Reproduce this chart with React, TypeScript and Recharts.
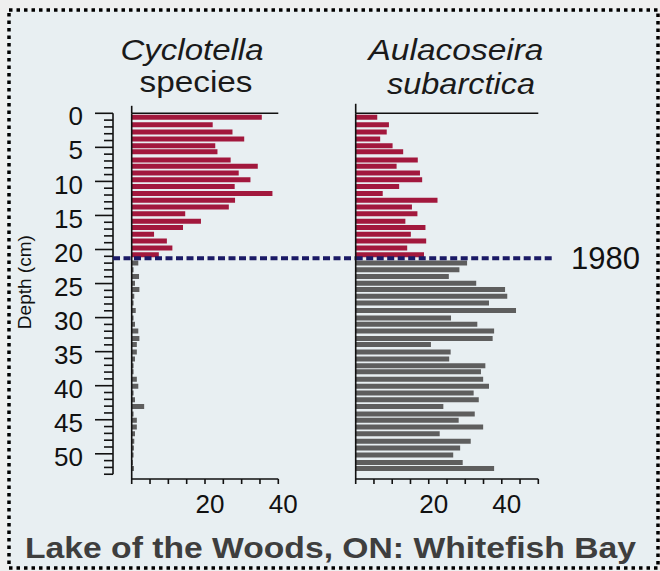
import React from 'react';
import { BarChart, Bar, XAxis, YAxis, Cell, ReferenceLine } from 'recharts';

// Depth (cm) of each sample
const depths = [0.5, 1.6, 2.7, 3.7, 4.7, 5.6, 6.8, 7.7, 8.7, 9.7, 10.7, 11.7, 12.7, 13.7, 14.7, 15.8, 16.7, 17.7, 18.7, 19.7, 20.7,
  21.9, 22.9, 23.9, 24.9, 25.8, 26.8, 27.8, 28.9, 30.0, 30.9, 31.9, 33.0, 33.9, 35.0, 36.0, 37.0, 37.9, 39.0, 40.0, 41.0,
  42.0, 43.0, 44.1, 45.0, 46.0, 47.0, 48.1, 49.1, 50.1, 51.2, 52.1];

// Cyclotella species (% abundance)
const cyclotella = [35.5, 22.1, 27.5, 30.7, 22.8, 23.4, 27.0, 34.4, 29.2, 32.4, 28.1, 38.4, 28.2, 26.5, 14.6, 18.9, 14.0, 6.1, 9.6, 11.1, 7.4,
  1.8, 0.5, 2.0, 0.9, 2.1, 0.7, 0.5, 1.1, 0.5, 0.9, 1.8, 2.1, 1.4, 1.4, 0.9, 0.5, 0.5, 1.4, 1.8, 0.5,
  0.9, 3.4, 0.5, 1.4, 1.4, 0.9, 0.7, 0.6, 0.5, 0.3, 0.6];

// Aulacoseira subarctica (% abundance)
const aulacoseira = [5.9, 9.1, 8.5, 6.7, 10.1, 13.0, 17.0, 11.2, 17.6, 18.2, 11.9, 7.4, 22.4, 15.4, 16.9, 13.6, 19.1, 15.1, 19.3, 14.1, 18.7,
  30.5, 28.4, 25.5, 33.0, 40.9, 41.5, 36.5, 43.9, 26.1, 33.3, 37.9, 37.5, 20.6, 26.0, 25.6, 35.5, 34.3, 34.9, 36.5, 32.3,
  33.7, 24.0, 32.6, 28.2, 34.9, 23.0, 31.5, 28.6, 26.7, 29.3, 37.9];

const depthTicks = [0, 1, 2, 3, 4, 5, 6, 7, 8, 9, 10, 11, 12, 13, 14, 15, 16, 17, 18, 19, 20, 21, 22, 23, 24, 25, 26,
  27, 28, 29, 30, 31, 32, 33, 34, 35, 36, 37, 38, 39, 40, 41, 42, 43, 44, 45, 46, 47, 48, 49, 50, 51, 52, 53];
const depthLabels = [0, 5, 10, 15, 20, 25, 30, 35, 40, 45, 50];
const leftValueTicks = [0, 5, 10, 15, 20, 25, 30, 35, 40];
const rightValueTicks = [0, 5, 10, 15, 20, 25, 30, 35, 40, 45, 50];
const valueLabels = [20, 40];

const year1980Depth = 21.3;
const depthDomain: [number, number] = [0, 53.7];

const data = depths.map((d, i) => ({ depth: d, cyclotella: cyclotella[i], aulacoseira: aulacoseira[i] }));

const RED = '#a2183d';
const GREY = '#5e5e5e';
const INK = '#111111';
const NAVY = '#1a1a66';
const FONT = '"Liberation Sans", Arial, Helvetica, sans-serif';
const DEPTH_AXIS_GAP = 18.7; // gap between the depth scale and the bar baseline

const DepthTick = (props: any) => {
  const { x, y, payload } = props;
  const v = payload.value;
  const major = depthLabels.includes(v);
  const ax = x - DEPTH_AXIS_GAP;
  return (
    <g>
      <line x1={ax} x2={ax - (major ? 18 : 9)} y1={y} y2={y} stroke={INK} strokeWidth={1.6} />
      {major && (
        <text x={ax - 30} y={y + 3} dy="0.35em" textAnchor="end" fontSize={26} fill={INK} fontFamily={FONT}>
          {v}
        </text>
      )}
    </g>
  );
};

const ValueTick = (props: any) => {
  const { x, y, payload } = props;
  if (!valueLabels.includes(payload.value)) return <g />;
  return (
    <text x={x + 5} y={y} dy="0.71em" textAnchor="middle" fontSize={26} fill={INK} fontFamily={FONT}>
      {payload.value}
    </text>
  );
};

const DepthLabel = (props: any) => {
  const vb = props.viewBox || { x: 0, y: 0, width: 0, height: 0 };
  const cx = vb.x + 2;
  const cy = vb.y + vb.height / 2 - 14;
  return (
    <text x={cx} y={cy} transform={`rotate(-90 ${cx} ${cy})`} textAnchor="middle" dominantBaseline="central"
      fontSize={19} fill={INK} fontFamily={FONT}>
      Depth (cm)
    </text>
  );
};

const axisLineStyle = { stroke: INK, strokeWidth: 1.6 };

export default function App() {
  return (
    <div style={{ position: 'fixed', left: 0, top: 0, width: 660, height: 571, overflow: 'hidden', fontFamily: FONT }}>
      <svg width={660} height={571} style={{ position: 'absolute', left: 0, top: 0 }}>
        <rect x={0} y={0} width={660} height={571} fill="#efefef" />
        <rect x={9} y={10} width={649} height={558} fill="#e8eff2" stroke="#000" strokeWidth={3.5} strokeDasharray="3.5 4" />
        <text x={192} y={60} textAnchor="middle" fontSize={30} fontStyle="italic" fill="#1a1a1a" textLength={143} lengthAdjust="spacingAndGlyphs" fontFamily={FONT}>Cyclotella</text>
        <text x={196} y={92} textAnchor="middle" fontSize={30} fill="#1a1a1a" textLength={113} lengthAdjust="spacingAndGlyphs" fontFamily={FONT}>species</text>
        <text x={456} y={60} textAnchor="middle" fontSize={30} fontStyle="italic" fill="#1a1a1a" textLength={175} lengthAdjust="spacingAndGlyphs" fontFamily={FONT}>Aulacoseira</text>
        <text x={461} y={94} textAnchor="middle" fontSize={30} fontStyle="italic" fill="#1a1a1a" textLength={148} lengthAdjust="spacingAndGlyphs" fontFamily={FONT}>subarctica</text>
        <text x={25} y={558} fontSize={30} fontWeight="bold" fill="#3e3e3e" textLength={611} lengthAdjust="spacingAndGlyphs" fontFamily={FONT}>Lake of the Woods, ON: Whitefish Bay</text>
      </svg>

      <div style={{ position: 'absolute', left: 0, top: 0 }}>
        <BarChart width={368} height={528} data={data} layout="vertical"
          margin={{ top: 113.3, left: 23, right: 89.7, bottom: 0 }} style={{ overflow: 'visible' }}>
          <XAxis type="number" domain={[0, 40]} ticks={leftValueTicks} interval={0} height={49}
            axisLine={axisLineStyle} tickLine={{ stroke: INK, strokeWidth: 1.6 }} tickSize={5} tickMargin={11}
            tick={<ValueTick />} allowDataOverflow />
          <XAxis xAxisId="top" orientation="top" type="number" domain={[0, 40]} ticks={leftValueTicks} interval={0}
            mirror axisLine={axisLineStyle} tickLine={{ stroke: INK, strokeWidth: 1.6 }} tickSize={5} tick={false} />
          <YAxis yAxisId="v" type="number" dataKey="depth" domain={depthDomain} ticks={depthTicks} interval={0}
            width={108.7} axisLine={axisLineStyle} tickLine={false} tickSize={0} tickMargin={0}
            tick={<DepthTick />} label={<DepthLabel />} allowDataOverflow />
          <Bar dataKey="cyclotella" yAxisId="v" barSize={5} isAnimationActive={false}>
            {data.map((d, i) => (
              <Cell key={i} fill={d.depth < year1980Depth ? RED : GREY} />
            ))}
          </Bar>
          <ReferenceLine yAxisId="v" segment={[{ x: 0, y: -1.1 }, { x: 0, y: 0 }]} ifOverflow="visible"
            stroke={INK} strokeWidth={1.6} />
          <ReferenceLine yAxisId="v" segment={[{ x: -5.1, y: 0 }, { x: -5.1, y: 53 }]} ifOverflow="visible"
            stroke={INK} strokeWidth={1.6} />
          <ReferenceLine yAxisId="v" segment={[{ x: -5.1, y: year1980Depth }, { x: 61.1, y: year1980Depth }]}
            ifOverflow="visible" stroke={NAVY} strokeWidth={4} strokeDasharray="7 3.5" />
        </BarChart>
      </div>

      <div style={{ position: 'absolute', left: 340, top: 0 }}>
        <BarChart width={320} height={528} data={data} layout="vertical"
          margin={{ top: 113.3, left: 5.7, right: 121.7, bottom: 0 }} style={{ overflow: 'visible' }}>
          <XAxis type="number" domain={[0, 50]} ticks={rightValueTicks} interval={0} height={49}
            axisLine={axisLineStyle} tickLine={{ stroke: INK, strokeWidth: 1.6 }} tickSize={5} tickMargin={11}
            tick={<ValueTick />} allowDataOverflow />
          <XAxis xAxisId="top" orientation="top" type="number" domain={[0, 50]} ticks={rightValueTicks} interval={0}
            mirror axisLine={axisLineStyle} tickLine={{ stroke: INK, strokeWidth: 1.6 }} tickSize={5} tick={false} />
          <YAxis yAxisId="v" type="number" dataKey="depth" domain={depthDomain} width={10}
            axisLine={axisLineStyle} tickLine={false} tick={false} allowDataOverflow />
          <Bar dataKey="aulacoseira" yAxisId="v" barSize={5} isAnimationActive={false}>
            {data.map((d, i) => (
              <Cell key={i} fill={d.depth < year1980Depth ? RED : GREY} />
            ))}
          </Bar>
          <ReferenceLine yAxisId="v" segment={[{ x: 0, y: -1.4 }, { x: 0, y: 0 }]} ifOverflow="visible"
            stroke={INK} strokeWidth={1.6} />
          <ReferenceLine yAxisId="v" segment={[{ x: 0, y: year1980Depth }, { x: 54, y: year1980Depth }]}
            ifOverflow="visible" stroke={NAVY} strokeWidth={4} strokeDasharray="7 3.5"
            label={{ value: '1980', position: 'right', offset: 18, fontSize: 31, fill: INK, fontFamily: FONT }} />
        </BarChart>
      </div>
    </div>
  );
}
